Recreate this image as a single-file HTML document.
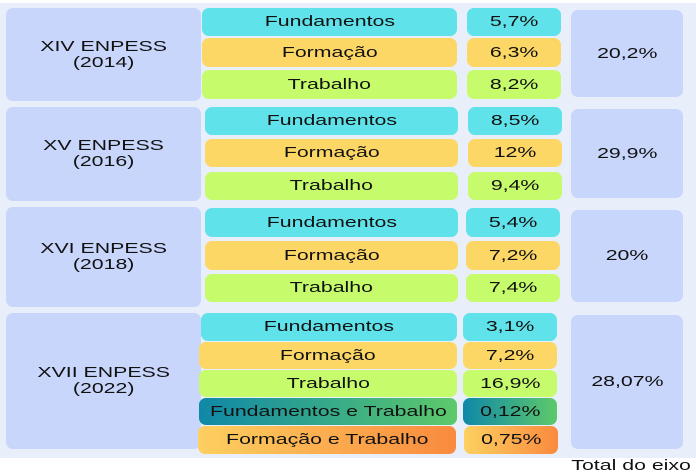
<!DOCTYPE html><html><head><style>
body{margin:0;width:696px;height:473px;background:#fff;font-family:"Liberation Sans",sans-serif;position:relative;overflow:hidden}
.bg{position:absolute;left:0;top:3px;width:696px;height:455px;background:#e9eefb}
div.b{position:absolute;display:flex;align-items:center;justify-content:center;text-align:center;font-size:15px;color:#111;border-radius:7px;line-height:16px}
div.b span,.t span{display:inline-block;transform:scaleX(1.42);white-space:nowrap}
.L{background:#c9d6fb}
.c{background:#5fe2ea}.y{background:#fdd765}.g{background:#c6fb6c}
.ft{background:linear-gradient(90deg,#0f88a8,#5dc96a)}
.fo{background:linear-gradient(90deg,#fdd060,#fa8a3e)}
</style></head><body>
<div class="bg"></div>
<div class="b L" style="left:6px;top:8px;width:195px;height:93px"><span>XIV ENPESS<br>(2014)</span></div>
<div class="b c" style="left:202px;top:8px;width:255px;height:28px"><span>Fundamentos</span></div>
<div class="b y" style="left:202px;top:38px;width:255px;height:29px"><span>Formação</span></div>
<div class="b g" style="left:202px;top:70px;width:255px;height:29px"><span>Trabalho</span></div>
<div class="b c" style="left:467px;top:8px;width:94px;height:28px"><span>5,7%</span></div>
<div class="b y" style="left:467px;top:38px;width:94px;height:29px"><span>6,3%</span></div>
<div class="b g" style="left:467px;top:70px;width:94px;height:29px"><span>8,2%</span></div>
<div class="b L" style="left:571px;top:10px;width:112px;height:87px"><span>20,2%</span></div>

<div class="b L" style="left:6px;top:107px;width:195px;height:94px"><span>XV ENPESS<br>(2016)</span></div>
<div class="b c" style="left:205px;top:107px;width:253px;height:28px"><span>Fundamentos</span></div>
<div class="b y" style="left:205px;top:139px;width:253px;height:28px"><span>Formação</span></div>
<div class="b g" style="left:205px;top:172px;width:253px;height:28px"><span>Trabalho</span></div>
<div class="b c" style="left:468px;top:107px;width:94px;height:28px"><span>8,5%</span></div>
<div class="b y" style="left:468px;top:139px;width:94px;height:28px"><span>12%</span></div>
<div class="b g" style="left:468px;top:172px;width:94px;height:28px"><span>9,4%</span></div>
<div class="b L" style="left:571px;top:109px;width:112px;height:89px"><span>29,9%</span></div>

<div class="b L" style="left:6px;top:207px;width:195px;height:100px"><span>XVI ENPESS<br>(2018)</span></div>
<div class="b c" style="left:205px;top:208px;width:253px;height:29px"><span>Fundamentos</span></div>
<div class="b y" style="left:205px;top:241px;width:253px;height:29px"><span>Formação</span></div>
<div class="b g" style="left:205px;top:274px;width:253px;height:28px"><span>Trabalho</span></div>
<div class="b c" style="left:466px;top:208px;width:94px;height:29px"><span>5,4%</span></div>
<div class="b y" style="left:466px;top:241px;width:94px;height:29px"><span>7,2%</span></div>
<div class="b g" style="left:466px;top:274px;width:94px;height:28px"><span>7,4%</span></div>
<div class="b L" style="left:571px;top:210px;width:112px;height:92px"><span>20%</span></div>

<div class="b L" style="left:6px;top:313px;width:195px;height:136px"><span>XVII ENPESS<br>(2022)</span></div>
<div class="b c" style="left:201px;top:313px;width:256px;height:28px"><span>Fundamentos</span></div>
<div class="b y" style="left:199px;top:342px;width:258px;height:27px"><span>Formação</span></div>
<div class="b g" style="left:199px;top:370px;width:258px;height:27px"><span>Trabalho</span></div>
<div class="b ft" style="left:199px;top:398px;width:258px;height:27px"><span>Fundamentos e Trabalho</span></div>
<div class="b fo" style="left:198px;top:426px;width:258px;height:28px"><span>Formação e Trabalho</span></div>
<div class="b c" style="left:463px;top:313px;width:94px;height:28px"><span>3,1%</span></div>
<div class="b y" style="left:463px;top:342px;width:94px;height:27px"><span>7,2%</span></div>
<div class="b g" style="left:463px;top:370px;width:94px;height:27px"><span>16,9%</span></div>
<div class="b ft" style="left:463px;top:398px;width:94px;height:27px"><span>0,12%</span></div>
<div class="b fo" style="left:464px;top:426px;width:94px;height:28px"><span>0,75%</span></div>
<div class="b L" style="left:571px;top:315px;width:112px;height:134px"><span>28,07%</span></div>
<div class="t" style="position:absolute;left:569px;top:457px;width:124px;text-align:center;font-size:15px;color:#111"><span>Total do eixo</span></div>
</body></html>
